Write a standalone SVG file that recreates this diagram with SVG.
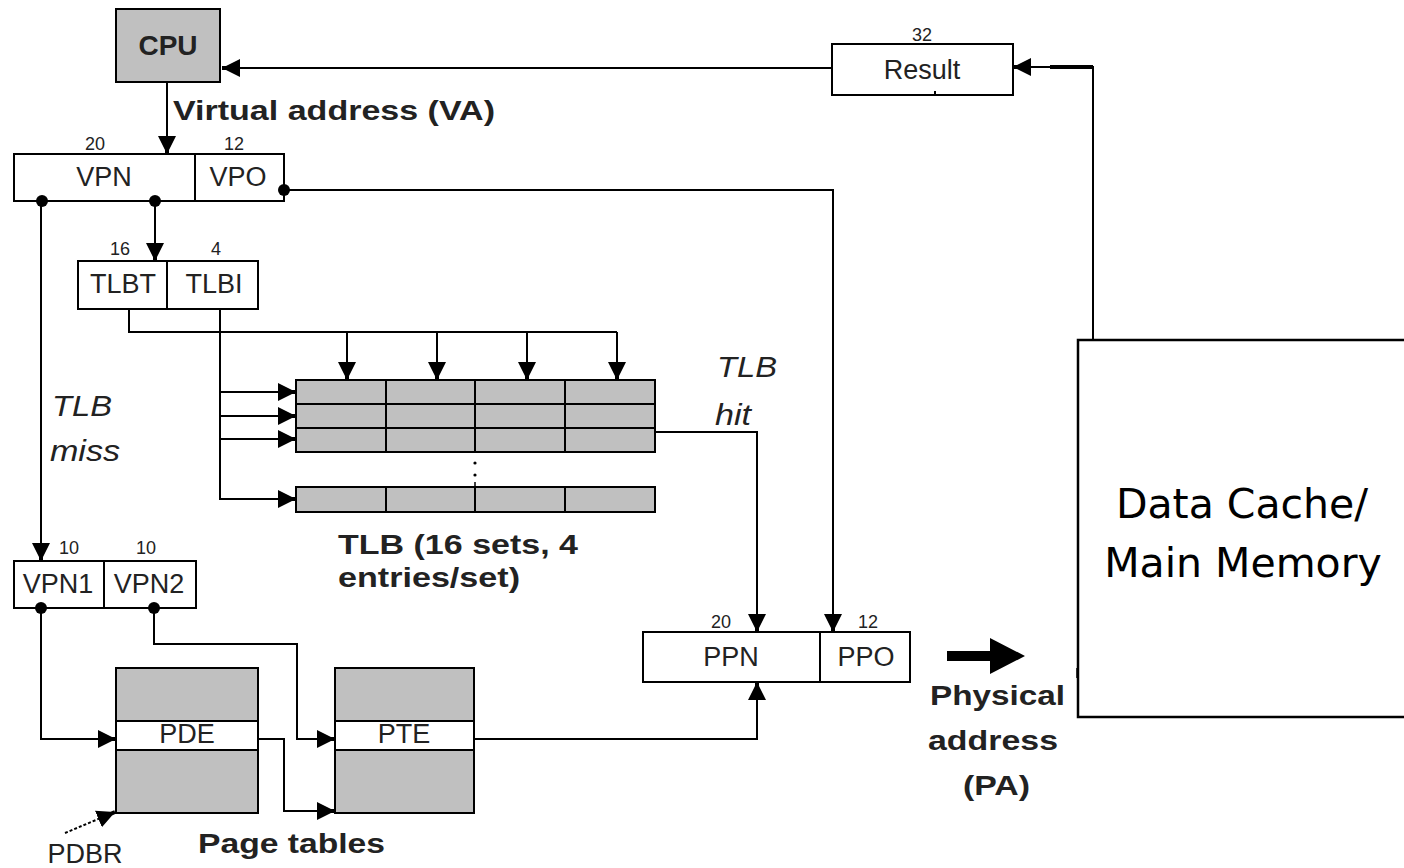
<svg xmlns="http://www.w3.org/2000/svg" width="1404" height="868" viewBox="0 0 1404 868">
<style>
.box{fill:#fff;stroke:#000;stroke-width:2}
.grey{fill:#c0c0c0;stroke:#000;stroke-width:2}
.ln{fill:none;stroke:#000;stroke-width:2}
.dot{fill:#000}
.t{font-family:"Liberation Sans",Arial,sans-serif;font-size:27px;fill:#222;text-anchor:middle}
.n{font-family:"Liberation Sans",Arial,sans-serif;font-size:18px;fill:#222;text-anchor:middle}
.b{font-family:"Liberation Sans",Arial,sans-serif;font-size:28px;font-weight:bold;fill:#222}
.i{font-family:"Liberation Sans",Arial,sans-serif;font-size:30px;font-style:italic;fill:#222}
.dc{font-family:"DejaVu Sans",Verdana,sans-serif;font-size:41px;fill:#000;text-anchor:middle}
</style>
<defs>
<marker id="ah" markerUnits="userSpaceOnUse" markerWidth="20" markerHeight="20" refX="18" refY="9" orient="auto">
<path d="M0,0 L14,7 L18,7 L18,11 L14,11 L0,18 Z" fill="#000"/>
</marker>
</defs>

<g id="cpu">
<rect class="grey" x="116" y="9" width="104" height="73"/>
<text class="b" x="168" y="55" text-anchor="middle" font-size="30">CPU</text>
</g>

<g id="va-label">
<text class="b" x="173" y="120" font-size="30" textLength="322" lengthAdjust="spacingAndGlyphs">Virtual address (VA)</text>
</g>

<g id="result">
<rect class="box" x="832" y="44" width="181" height="51"/>
<text class="n" x="922" y="41">32</text>
<text class="t" x="922" y="79" font-size="26">Result</text>
<path d="M935,95 V91" stroke="#000" stroke-width="2"/>
</g>

<g id="va">
<rect class="box" x="14" y="154" width="270" height="47"/>
<path class="ln" d="M195,154 V201"/>
<text class="n" x="95" y="150">20</text>
<text class="n" x="234" y="150">12</text>
<text class="t" x="104" y="186">VPN</text>
<text class="t" x="238" y="186">VPO</text>
</g>

<g id="tlbtag">
<rect class="box" x="78" y="261" width="180" height="48"/>
<path class="ln" d="M167,261 V309"/>
<text class="n" x="120" y="255">16</text>
<text class="n" x="216" y="255">4</text>
<text class="t" x="123" y="293">TLBT</text>
<text class="t" x="214" y="293">TLBI</text>
</g>

<g id="tlb-miss">
<text class="i" x="52" y="416" textLength="60" lengthAdjust="spacingAndGlyphs">TLB</text>
<text class="i" x="50" y="461" textLength="70" lengthAdjust="spacingAndGlyphs">miss</text>
</g>

<g id="tlb">
<rect class="grey" x="296" y="380" width="359" height="24"/>
<rect class="grey" x="296" y="404" width="359" height="24"/>
<rect class="grey" x="296" y="428" width="359" height="24"/>
<path class="ln" d="M386,380 V452 M475,380 V452 M565,380 V452"/>
<rect class="grey" x="296" y="487" width="359" height="25"/>
<path class="ln" d="M386,487 V512 M475,487 V512 M565,487 V512"/>
<circle cx="475" cy="463" r="1.6"/>
<circle cx="475" cy="475" r="1.6"/>
<path d="M475,482 V487" stroke="#000" stroke-width="1.5"/>
<text class="b" x="338" y="554" textLength="240" lengthAdjust="spacingAndGlyphs">TLB (16 sets, 4</text>
<text class="b" x="338" y="587" textLength="182" lengthAdjust="spacingAndGlyphs">entries/set)</text>
</g>

<g id="tlb-hit">
<text class="i" x="717" y="377" textLength="60" lengthAdjust="spacingAndGlyphs">TLB</text>
<text class="i" x="715" y="425" textLength="36" lengthAdjust="spacingAndGlyphs">hit</text>
</g>

<g id="vpn12">
<rect class="box" x="14" y="561" width="182" height="47"/>
<path class="ln" d="M104,561 V608"/>
<text class="n" x="69" y="554">10</text>
<text class="n" x="146" y="554">10</text>
<text class="t" x="58" y="593">VPN1</text>
<text class="t" x="149" y="593">VPN2</text>
</g>

<g id="pde">
<rect class="grey" x="116" y="668" width="142" height="145"/>
<rect class="box" x="116" y="721" width="142" height="29"/>
<text class="t" x="187" y="743" font-size="24">PDE</text>
</g>

<g id="pte">
<rect class="grey" x="335" y="668" width="139" height="145"/>
<rect class="box" x="335" y="721" width="139" height="29"/>
<text class="t" x="404" y="743" font-size="24">PTE</text>
</g>

<g id="page-tables-label">
<text class="b" x="198" y="853" textLength="187" lengthAdjust="spacingAndGlyphs">Page tables</text>
<text class="t" x="85" y="863" font-size="23">PDBR</text>
</g>

<g id="pa">
<rect class="box" x="643" y="632" width="267" height="50"/>
<path class="ln" d="M820,632 V682"/>
<text class="n" x="721" y="628">20</text>
<text class="n" x="868" y="628">12</text>
<text class="t" x="731" y="666">PPN</text>
<text class="t" x="866" y="666">PPO</text>
</g>

<g id="pa-label">
<text class="b" x="930" y="705" textLength="135" lengthAdjust="spacingAndGlyphs">Physical</text>
<text class="b" x="928" y="750" textLength="130" lengthAdjust="spacingAndGlyphs">address</text>
<text class="b" x="963" y="795" textLength="67" lengthAdjust="spacingAndGlyphs">(PA)</text>
<path d="M1077,668 V678" stroke="#000" stroke-width="1.5"/>
</g>

<g id="memory">
<rect x="1078" y="340" width="340" height="377" fill="#fff" stroke="#000" stroke-width="2.5"/>
<text class="dc" x="1242" y="518">Data Cache/</text>
<text class="dc" x="1243" y="577">Main Memory</text>
</g>

<g id="connectors">
<path class="ln" d="M832,68 H222" marker-end="url(#ah)"/>
<path class="ln" d="M167,82 V154" marker-end="url(#ah)"/>
<path class="ln" d="M155,201 V261" marker-end="url(#ah)"/>
<path class="ln" d="M41,201 V561" marker-end="url(#ah)"/>
<path class="ln" d="M284,190 H833 V632" marker-end="url(#ah)"/>
<path class="ln" d="M129,309 V332 H617"/>
<path class="ln" d="M347,332 V380" marker-end="url(#ah)"/>
<path class="ln" d="M437,332 V380" marker-end="url(#ah)"/>
<path class="ln" d="M527,332 V380" marker-end="url(#ah)"/>
<path class="ln" d="M617,332 V380" marker-end="url(#ah)"/>
<path class="ln" d="M220,309 V499 H296" marker-end="url(#ah)"/>
<path class="ln" d="M220,392 H296" marker-end="url(#ah)"/>
<path class="ln" d="M220,416 H296" marker-end="url(#ah)"/>
<path class="ln" d="M220,439 H296" marker-end="url(#ah)"/>
<path class="ln" d="M655,432 H757 V632" marker-end="url(#ah)"/>
<path class="ln" d="M41,608 V739 H116" marker-end="url(#ah)"/>
<path class="ln" d="M154,608 V644 H297 V739 H335" marker-end="url(#ah)"/>
<path class="ln" d="M258,739 H284 V811 H335" marker-end="url(#ah)"/>
<path class="ln" d="M65,833 L115,812" stroke-dasharray="3,2" marker-end="url(#ah)"/>
<path class="ln" d="M474,739 H757 V682" marker-end="url(#ah)"/>
<path class="ln" d="M1093,340 V67 H1013" marker-end="url(#ah)"/>
<path d="M1050,67 H1093" stroke="#000" stroke-width="4"/>
<path d="M947,651 H990 V638 L1025,656 L990,674 V661 H947 Z" fill="#000"/>
<circle class="dot" cx="42" cy="201" r="6"/>
<circle class="dot" cx="155" cy="201" r="6"/>
<circle class="dot" cx="284" cy="190" r="6"/>
<circle class="dot" cx="41" cy="608" r="6"/>
<circle class="dot" cx="154" cy="608" r="6"/>
</g>
</svg>
